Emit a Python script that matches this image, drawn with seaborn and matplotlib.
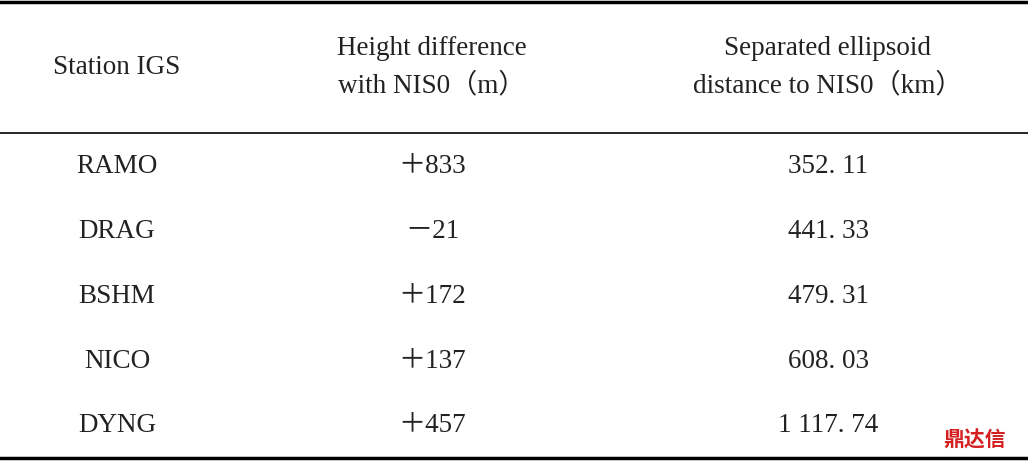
import matplotlib
matplotlib.use("Agg")
import matplotlib.pyplot as plt
import seaborn as sns

headers = ["Station IGS", "Height difference\nwith NIS0（m）", "Separated ellipsoid\ndistance to NIS0（km）"]
stations = ["RAMO", "DRAG", "BSHM", "NICO", "DYNG"]
height_diff = ["＋833", "－21", "＋172", "＋137", "＋457"]
distances = ["352. 11", "441. 33", "479. 31", "608. 03", "1 117. 74"]

sns.set_theme(style="white")
plt.rcParams['font.family'] = ['Liberation Serif', 'Noto Sans CJK SC', 'DejaVu Sans']

fig = plt.figure(figsize=(10.28, 4.61), dpi=100)
ax = fig.add_axes([0, 0, 1, 1])
ax.set_xlim(0, 1028)
ax.set_ylim(461, 0)
ax.axis("off")

col_x = [117, 432, 828]
ax.axhline(2, color="black", lw=2.5)
ax.axhline(133, color="black", lw=1.2)
ax.axhline(458, color="black", lw=2.5)

fs = 19.5
for x, h in zip(col_x, headers):
    ax.text(x, 67, h, ha="center", va="center", fontsize=fs, linespacing=1.6, color="#222")

row_y = [166, 231, 296, 361, 425]
for y, s, hd, d in zip(row_y, stations, height_diff, distances):
    ax.text(col_x[0], y, s, ha="center", va="center", fontsize=fs, color="#222")
    ax.text(col_x[1], y, hd, ha="center", va="center", fontsize=fs, color="#222")
    ax.text(col_x[2], y, d, ha="center", va="center", fontsize=fs, color="#222")

ax.text(975, 440, "鼎达信", ha="center", va="center", fontsize=15, color="#d42020",
        family=['Noto Sans CJK SC'], fontweight="bold")

fig.savefig("out.png", dpi=100)
